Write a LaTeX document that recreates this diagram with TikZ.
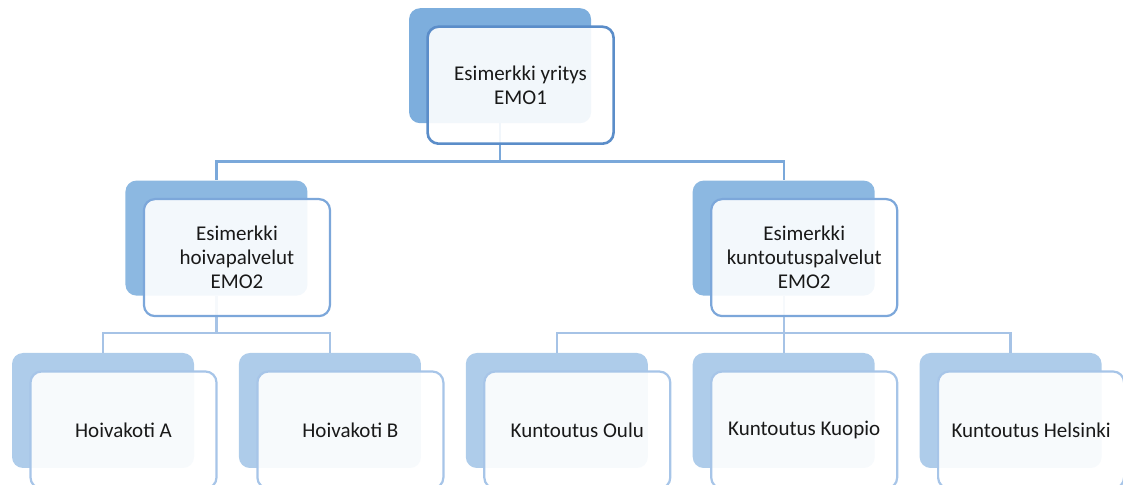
\documentclass[tikz,border=0pt]{standalone}
\usepackage{fontspec}
\setmainfont{Carlito}
\usepackage{tikz}
\usetikzlibrary{positioning, calc}

\definecolor{oneback}{HTML}{7DAEDD}
\definecolor{oneedge}{HTML}{5B8DC9}
\definecolor{twoback}{HTML}{8CB8E1}
\definecolor{twoedge}{HTML}{7CA7DA}
\definecolor{threeback}{HTML}{AECCEA}
\definecolor{threeedge}{HTML}{A7C5E8}
\definecolor{oneline}{HTML}{7AA8DA}
\definecolor{twoline}{HTML}{A6C3E6}

\begin{document}
\begin{tikzpicture}[
  x=1pt, y=1pt,
  node distance=57pt and 44.5pt,
  every node/.style={font=\fontsize{21}{24}\selectfont, text=black!90},
  % Styles
  card/.style={rectangle, rounded corners=11pt, align=center, inner sep=0pt},
  backcard/.style={card, minimum width=182pt, minimum height=115pt},
  frontcard/.style={card, minimum width=186pt, minimum height=117pt, fill=white, fill opacity=0.9, text opacity=1, line width=2.2pt},
  l1back/.style={backcard, fill=oneback},
  l2back/.style={backcard, fill=twoback},
  l3back/.style={backcard, fill=threeback},
  l1card/.style={frontcard, draw=oneedge, line width=2.6pt},
  l2card/.style={frontcard, draw=twoedge},
  l3card/.style={frontcard, draw=threeedge},
  l1line/.style={line width=2.4pt, color=oneline},
  l2line/.style={line width=2.4pt, color=twoline},
]
  \useasboundingbox (0,0) rectangle (1123,484);

  % ── BACK CARDS ────────────────────────────────────────────
  % Units
  \node[l3back] (hoiAb) at (103,73.5) {};
  \node[l3back, right=of hoiAb] (hoiBb) {};
  \node[l3back, right=of hoiBb] (koulub) {};
  \node[l3back, right=of koulub] (kkuopb) {};
  \node[l3back, right=of kkuopb] (khelsb) {};

  % Subsidiaries
  \coordinate (hoimid) at ($(hoiAb.north)!0.5!(hoiBb.north)$);
  \node[l2back, above=of hoimid] (hoivab) {};
  \node[l2back, above=of kkuopb] (kuntob) {};

  % Parent
  \coordinate (emomid) at ($(hoivab.north)!0.5!(kuntob.north)$);
  \node[l1back, above=of emomid] (emo1b) {};

  % ── CONNECTORS ────────────────────────────────────────────
  \draw[l1line] (emo1b.south) -- ++(0,-38) -| (hoivab.north);
  \draw[l1line] (emo1b.south) -- ++(0,-38) -| (kuntob.north);

  \draw[l2line] (hoivab.south) -- ++(0,-37) -| (hoiAb.north);
  \draw[l2line] (hoivab.south) -- ++(0,-37) -| (hoiBb.north);

  \draw[l2line] (kuntob.south) -- ++(0,-37) -| (koulub.north);
  \draw[l2line] (kuntob.south) -- (kkuopb.north);
  \draw[l2line] (kuntob.south) -- ++(0,-37) -| (khelsb.north);

  % ── FRONT CARDS ───────────────────────────────────────────
  \node[l1card] (emo1) at ([shift={(20.5,-19.5)}]emo1b) {Esimerkki yritys\\EMO1};

  \node[l2card] (hoiva) at ([shift={(20.5,-19.5)}]hoivab) {Esimerkki\\hoivapalvelut\\EMO2};
  \node[l2card] (kunto) at ([shift={(20.5,-19.5)}]kuntob) {Esimerkki\\kuntoutuspalvelut\\EMO2};

  \node[l3card] (hoiA) at ([shift={(20.5,-19.5)}]hoiAb) {Hoivakoti A};
  \node[l3card] (hoiB) at ([shift={(20.5,-19.5)}]hoiBb) {Hoivakoti B};
  \node[l3card] (koulu) at ([shift={(20.5,-19.5)}]koulub) {Kuntoutus Oulu};
  \node[l3card] (kkuop) at ([shift={(20.5,-19.5)}]kkuopb) {Kuntoutus Kuopio};
  \node[l3card] (khels) at ([shift={(20.5,-19.5)}]khelsb) {Kuntoutus Helsinki};

\end{tikzpicture}
\end{document}
